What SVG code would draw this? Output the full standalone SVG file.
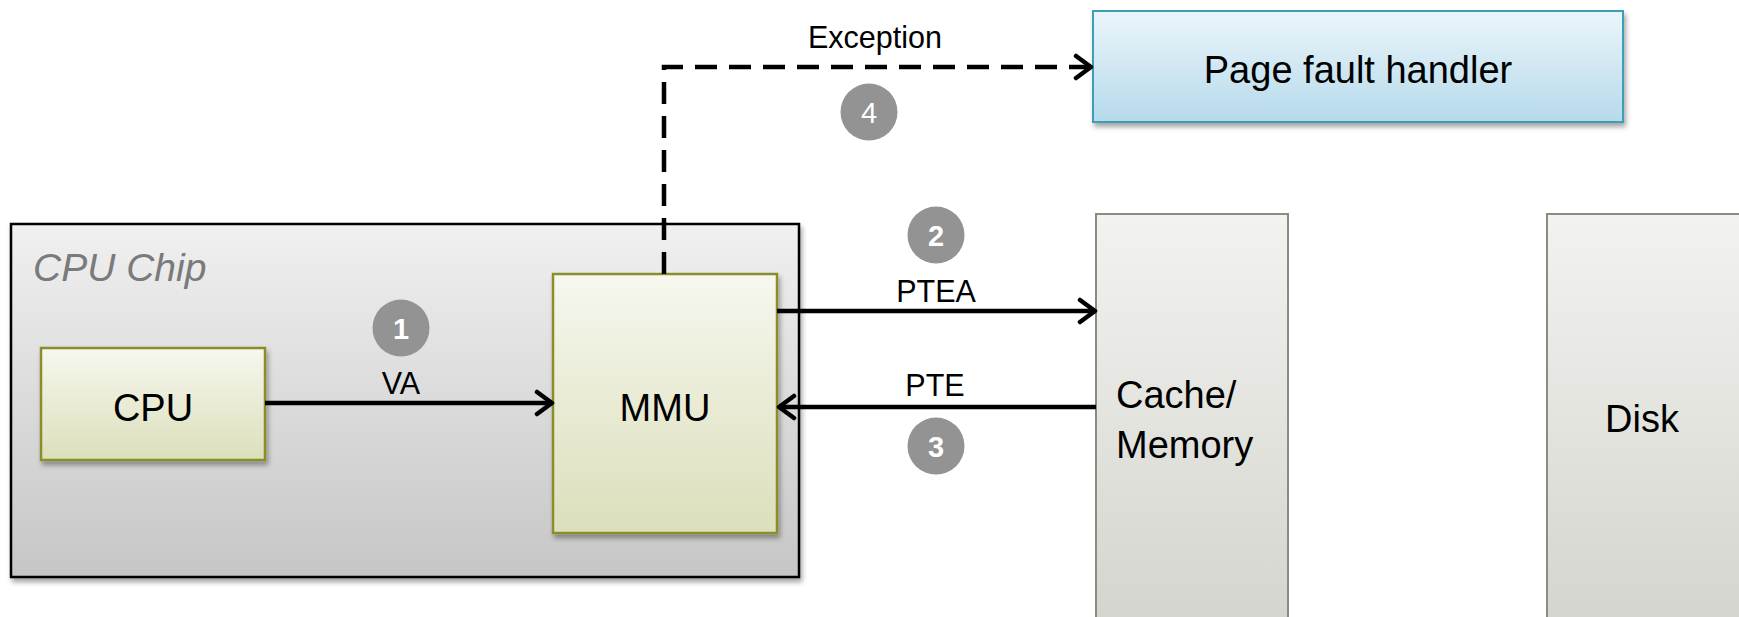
<svg xmlns="http://www.w3.org/2000/svg" width="1739" height="617" viewBox="0 0 1739 617">
  <style>
    .lbl { font-family: "Liberation Sans", Arial, sans-serif; fill: #000; }
    .big { font-size: 38px; }
    .small { font-size: 30.5px; }
    .num { font-family: "Liberation Sans", Arial, sans-serif; font-size: 29px; font-weight: bold; fill: #fff; text-anchor: middle; }
    .badge { fill: #939393; }
    .conn { fill: none; stroke: #000; stroke-width: 4.5; }
    .dash { stroke-dasharray: 22 12; stroke-width: 4.5; }
  </style>
  <defs>
    <linearGradient id="gChip" x1="0" y1="0" x2="0" y2="1">
      <stop offset="0" stop-color="#f0f0f0"/>
      <stop offset="1" stop-color="#c6c6c6"/>
    </linearGradient>
    <linearGradient id="gUnit" x1="0" y1="0" x2="0" y2="1">
      <stop offset="0" stop-color="#f6f7ee"/>
      <stop offset="1" stop-color="#dcdfbb"/>
    </linearGradient>
    <linearGradient id="gHandler" x1="0" y1="0" x2="0" y2="1">
      <stop offset="0" stop-color="#ebf5fb"/>
      <stop offset="1" stop-color="#b6daeb"/>
    </linearGradient>
    <linearGradient id="gStore" x1="0" y1="0" x2="0" y2="1">
      <stop offset="0" stop-color="#f2f2ef"/>
      <stop offset="1" stop-color="#d4d4ce"/>
    </linearGradient>
    <filter id="shadow" x="-10%" y="-10%" width="125%" height="125%">
      <feDropShadow dx="2" dy="4" stdDeviation="2.5" flood-color="#000" flood-opacity="0.35"/>
    </filter>
    <marker id="arrow" markerUnits="userSpaceOnUse" viewBox="0 0 22 28" refX="18" refY="14" markerWidth="22" markerHeight="28" orient="auto">
      <path d="M3,3 L18,14 L3,25" fill="none" stroke="#000" stroke-width="4.5" stroke-linecap="round" stroke-linejoin="round"/>
    </marker>
  </defs>

  <!-- CPU chip enclosure -->
  <g id="cpu-chip">
    <rect x="11" y="224" width="788" height="353" fill="url(#gChip)" stroke="#000" stroke-width="2.5" filter="url(#shadow)"/>
    <text x="33" y="281" class="lbl" font-size="39" font-style="italic" style="fill:#7a7a7a">CPU Chip</text>
  </g>

  <g id="cpu">
    <rect x="41" y="348" width="224" height="112" fill="url(#gUnit)" stroke="#8a8e2c" stroke-width="2.5" filter="url(#shadow)"/>
    <text x="153" y="421" class="lbl big" text-anchor="middle">CPU</text>
  </g>

  <g id="mmu">
    <rect x="553" y="274" width="224" height="259" fill="url(#gUnit)" stroke="#8a8e2c" stroke-width="2.5" filter="url(#shadow)"/>
    <text x="665" y="421" class="lbl big" text-anchor="middle">MMU</text>
  </g>

  <g id="page-fault-handler">
    <rect x="1093" y="11" width="530" height="111" fill="url(#gHandler)" stroke="#3b9fb6" stroke-width="2" filter="url(#shadow)"/>
    <text x="1358" y="83" class="lbl big" text-anchor="middle">Page fault handler</text>
  </g>

  <g id="cache-memory">
    <rect x="1096" y="214" width="192" height="420" fill="url(#gStore)" stroke="#8a8c80" stroke-width="2"/>
    <text x="1116" y="408" class="lbl big">Cache/</text>
    <text x="1116" y="458" class="lbl big">Memory</text>
  </g>

  <g id="disk">
    <rect x="1547" y="214" width="210" height="420" fill="url(#gStore)" stroke="#8a8c80" stroke-width="2"/>
    <text x="1642" y="432" class="lbl big" text-anchor="middle">Disk</text>
  </g>

  <!-- connectors -->
  <g id="connectors">
    <line x1="265" y1="403" x2="552" y2="403" class="conn" marker-end="url(#arrow)"/>
    <line x1="777" y1="311" x2="1095" y2="311" class="conn" marker-end="url(#arrow)"/>
    <line x1="1096" y1="407" x2="779" y2="407" class="conn" marker-end="url(#arrow)"/>
    <path d="M664,274 L664,67 L1091,67" class="conn dash" marker-end="url(#arrow)"/>

    <text x="401" y="394" class="lbl small" text-anchor="middle">VA</text>
    <text x="936" y="302" class="lbl small" text-anchor="middle">PTEA</text>
    <text x="935" y="396" class="lbl small" text-anchor="middle">PTE</text>
    <text x="875" y="48" class="lbl small" text-anchor="middle">Exception</text>
  </g>

  <!-- step badges -->
  <g id="step-1">
    <circle cx="401" cy="328" r="28.5" class="badge"/>
    <text x="401" y="339" class="num">1</text>
  </g>
  <g id="step-2">
    <circle cx="936" cy="235" r="28.5" class="badge"/>
    <text x="936" y="246" class="num">2</text>
  </g>
  <g id="step-3">
    <circle cx="936" cy="446" r="28.5" class="badge"/>
    <text x="936" y="457" class="num">3</text>
  </g>
  <g id="step-4">
    <circle cx="869" cy="112" r="28.5" class="badge"/>
    <text x="869" y="123" class="num" style="font-weight:normal">4</text>
  </g>
</svg>
